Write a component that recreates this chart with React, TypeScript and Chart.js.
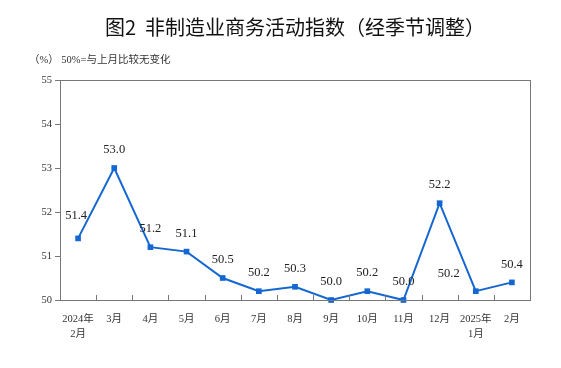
import React, { useEffect, useRef } from "react";
import { Chart, registerables } from "chart.js";

Chart.register(...registerables);

const TITLE = "图2  非制造业商务活动指数（经季节调整）";
const SUBTITLE = "（%） 50%=与上月比较无变化";
const categories: (string | string[])[] = [
  ["2024年", "2月"], "3月", "4月", "5月", "6月", "7月", "8月", "9月", "10月", "11月", "12月", ["2025年", "1月"], "2月",
];
const values = [51.4, 53.0, 51.2, 51.1, 50.5, 50.2, 50.3, 50.0, 50.2, 50.0, 52.2, 50.2, 50.4];
const yMin = 50;
const yMax = 55;
const yStep = 1;

const BLUE = "#1467d2";
const SERIF = '"Liberation Serif", "Noto Sans CJK SC", serif';

const decorPlugin = {
  id: "decor",
  afterDraw(chart: any) {
    const { ctx, chartArea } = chart;
    const { left, right, top, bottom } = chartArea;
    ctx.save();
    ctx.fillStyle = "#111";
    ctx.font = '20px "Noto Sans CJK SC", sans-serif';
    ctx.textAlign = "center";
    ctx.textBaseline = "middle";
    ctx.fillText(TITLE, 295, 27);
    ctx.font = "10.5px " + SERIF;
    ctx.fillStyle = "#333";
    ctx.textAlign = "left";
    ctx.fillText(SUBTITLE, 29, 60);
    ctx.strokeStyle = "#777";
    ctx.lineWidth = 1;
    ctx.strokeRect(Math.round(left) + 0.5, Math.round(top) + 0.5, Math.round(right - left), Math.round(bottom - top));
    const n = categories.length;
    const w = (right - left) / n;
    ctx.beginPath();
    for (let i = 1; i < n; i++) {
      const x = Math.round(left + i * w) + 0.5;
      ctx.moveTo(x, bottom);
      ctx.lineTo(x, bottom - 5);
    }
    ctx.stroke();
    ctx.restore();
  },
};

const labelPlugin = {
  id: "valueLabels",
  afterDatasetsDraw(chart: any) {
    const { ctx } = chart;
    const meta = chart.getDatasetMeta(0);
    ctx.save();
    ctx.font = "12.5px " + SERIF;
    ctx.fillStyle = "#222";
    ctx.textBaseline = "middle";
    meta.data.forEach((pt: any, i: number) => {
      const v = values[i];
      let dx = 0;
      let dy = -18;
      ctx.textAlign = "center";
      if (i === 0) {
        dx = -2;
        dy = -23;
      } else if (i === values.length - 2) {
        dx = -27;
        dy = -17;
      }
      ctx.fillText(v.toFixed(1), pt.x + dx, pt.y + dy);
    });
    ctx.restore();
  },
};

export default function App() {
  const ref = useRef<HTMLCanvasElement>(null);
  useEffect(() => {
    if (!ref.current) return;
    const chart = new Chart(ref.current, {
      type: "line",
      data: {
        labels: categories,
        datasets: [
          {
            data: values,
            borderColor: BLUE,
            backgroundColor: BLUE,
            borderWidth: 2,
            pointStyle: "rect",
            pointRadius: 4,
            pointBorderWidth: 0,
            tension: 0,
            clip: false as any,
          },
        ],
      },
      options: {
        responsive: false,
        animation: false,
        layout: { padding: { left: 0, top: 80, right: 31, bottom: 28 } },
        plugins: {
          legend: { display: false },
          tooltip: { enabled: false },
          title: { display: false },
        },
        scales: {
          x: {
            offset: true,
            grid: { display: false, offset: true },
            border: { display: false },
            ticks: {
              font: { family: SERIF, size: 10.5, lineHeight: 1.5 },
              color: "#333",
              padding: 3,
              maxRotation: 0,
              autoSkip: false,
            },
            afterFit(scale: any) {
              scale.height = 40;
            },
          },
          y: {
            min: yMin,
            max: yMax,
            grid: { drawOnChartArea: false, drawTicks: true, tickLength: 5, color: "#777" },
            border: { display: true, color: "#777" },
            ticks: {
              stepSize: yStep,
              font: { family: SERIF, size: 10.5 },
              color: "#333",
              padding: 3,
            },
            afterFit(scale: any) {
              scale.width = 60;
            },
          },
        },
      },
      plugins: [decorPlugin, labelPlugin],
    });
    return () => chart.destroy();
  }, []);
  return (
    <div style={{ position: "fixed", left: 0, top: 0, width: 561, height: 368, background: "#fff" }}>
      <canvas ref={ref} width={561} height={368} style={{ width: 561, height: 368 }} />
    </div>
  );
}
